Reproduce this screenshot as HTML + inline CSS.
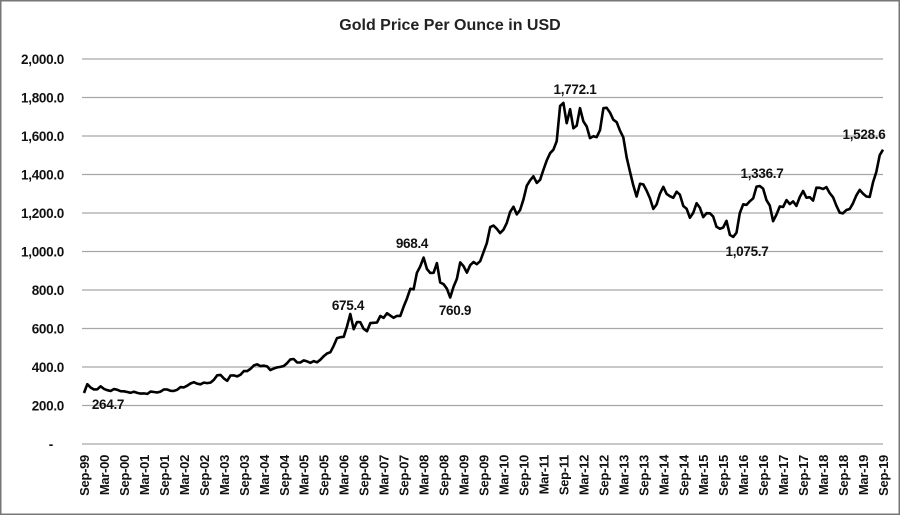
<!DOCTYPE html>
<html><head><meta charset="utf-8"><style>
body{margin:0;background:#fff}
svg{display:block;font-family:"Liberation Sans",sans-serif}
</style></head><body>
<svg id="c" width="900" height="515" xmlns="http://www.w3.org/2000/svg">
<rect x="0.75" y="0.75" width="898.5" height="513.5" fill="#fff" stroke="#777" stroke-width="1.5"/>
<text x="450" y="30" text-anchor="middle" font-size="16" font-weight="bold" fill="#222">Gold Price Per Ounce in USD</text>
<g id="g"></g>
</svg>
<script>
var d=[264.7,310.7,293.2,283.1,
284.3,299.9,286.4,279.7,275.2,285.7,281.6,274.5,273.7,270.0,266.0,271.5,
265.5,261.9,263.0,260.5,272.4,270.2,267.5,272.4,283.4,283.1,276.2,275.9,
281.7,295.5,294.0,302.7,314.5,321.2,313.3,310.3,319.2,316.6,319.1,333.0,
356.9,359.0,340.6,328.2,355.7,356.4,351.0,359.8,378.9,378.9,389.9,407.6,
413.8,404.9,406.7,403.0,383.8,392.4,398.1,400.5,405.3,420.5,439.4,441.8,
424.0,423.4,434.2,429.2,421.9,430.7,424.5,437.9,456.0,469.9,476.7,510.1,
549.9,555.0,557.1,610.6,675.4,596.2,633.7,632.6,598.2,585.8,627.8,629.8,
631.2,664.8,654.9,679.4,666.9,655.5,665.3,665.4,712.7,754.6,806.3,803.2,
889.6,922.3,968.4,909.7,888.7,889.5,939.8,839.0,829.9,806.6,760.9,816.1,
858.7,943.2,924.3,890.2,928.6,945.7,934.2,949.4,996.6,1043.2,1127.0,1134.7,
1117.9,1095.4,1113.3,1148.7,1205.4,1232.9,1192.9,1215.8,1271.0,1342.0,1369.9,1390.6,
1356.4,1372.7,1424.0,1473.8,1510.4,1528.7,1572.8,1755.8,1772.1,1666.4,1739.0,1640.0,
1654.1,1744.8,1676.0,1649.2,1589.0,1598.8,1594.3,1630.3,1744.5,1746.6,1721.6,1684.8,
1671.9,1627.6,1593.1,1487.9,1414.0,1343.4,1285.5,1351.7,1348.6,1316.6,1275.8,1221.5,
1244.3,1299.6,1336.1,1299.0,1287.5,1279.1,1310.6,1295.1,1236.6,1222.5,1175.3,1200.6,
1250.8,1227.1,1178.6,1198.9,1198.6,1181.5,1128.3,1117.9,1124.8,1159.3,1086.4,1075.7,
1097.9,1199.5,1245.1,1242.3,1260.9,1276.4,1336.7,1340.2,1326.6,1266.6,1238.4,1157.4,
1192.1,1234.2,1231.1,1266.9,1246.0,1260.3,1236.8,1283.0,1314.1,1279.5,1281.9,1264.5,
1331.3,1330.7,1324.7,1334.8,1303.5,1281.6,1237.7,1201.7,1198.4,1215.4,1220.7,1250.4,
1291.8,1320.1,1300.9,1285.9,1283.7,1359.0,1412.9,1500.4,1528.6];
var s='',X0=84,DX=(883-84)/240,Y0=444,K=385/2000;
function y(v){return Y0-v*K}
var F='font-size="13.5" font-weight="bold" letter-spacing="-0.3" fill="#111"';
for(var v=0;v<=2000;v+=200){
 var yy=y(v).toFixed(1);
 s+='<line x1="82" x2="883" y1="'+yy+'" y2="'+yy+'" stroke="#a6a6a6" stroke-width="1.3"/>';
 var lab=v==0?'-':(v>=1000?(Math.floor(v/1000)+','+String(v%1000).padStart(3,'0')):v)+'.0';
 s+='<text x="'+(v==0?53:64)+'" y="'+(+yy+5)+'" text-anchor="end" '+F+'>'+lab+'</text>';
}
for(var i=0;i<=40;i++){
 var m=i%2==0?'Sep':'Mar';var yr=99+Math.ceil(i/2);yr=String(yr%100).padStart(2,'0');
 var xx=X0+i*6*DX+5;
 s+='<text transform="translate('+xx.toFixed(1)+',455) rotate(-90)" text-anchor="end" font-size="13" font-weight="bold" letter-spacing="-0.3" fill="#111">'+m+'-'+yr+'</text>';
}
var p='';for(var i=0;i<d.length;i++)p+=(i?'L':'M')+(X0+i*DX).toFixed(1)+','+y(d[i]).toFixed(1);
s+='<path d="'+p+'" fill="none" stroke="#000" stroke-width="2.6" stroke-linejoin="round"/>';
var L=[['264.7',108,409],['675.4',348,310],['968.4',412,248],['760.9',455,315],['1,772.1',575,94],['1,336.7',762,178],['1,075.7',747,256],['1,528.6',864,139]];
L.forEach(function(a){s+='<text x="'+a[1]+'" y="'+a[2]+'" text-anchor="middle" '+F+'>'+a[0]+'</text>'});
document.getElementById('g').innerHTML=s;
</script>
</body></html>
